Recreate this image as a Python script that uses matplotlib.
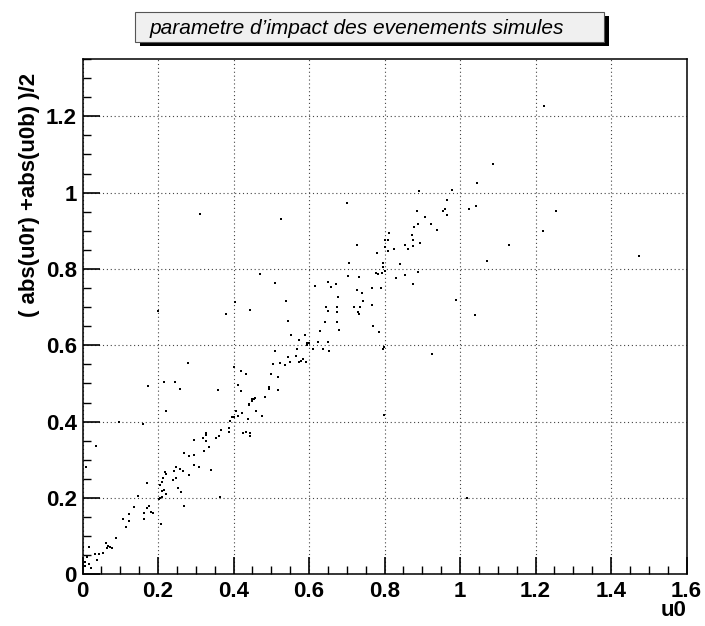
import numpy as np
import matplotlib
matplotlib.use('Agg')
import matplotlib.pyplot as plt
from matplotlib.ticker import MultipleLocator
from matplotlib.patches import Rectangle

# u0 and ( abs(u0r) + abs(u0b) )/2
u0 = [0.220, 0.096, 0.161, 0.037, 0.009, 0.171, 0.148, 0.136, 0.170, 0.175,
      0.164, 0.181, 0.188, 0.162, 0.123, 0.106, 0.124, 0.115, 0.088, 0.062,
      0.068, 0.074, 0.079, 0.066, 0.053, 0.045, 0.033, 0.017, 0.001, 0.013,
      0.038, 0.007, 0.017, 0.006, 0.022,
      0.205, 0.211, 0.214, 0.220, 0.218, 0.205, 0.211, 0.202, 0.211, 0.217,
      0.221, 0.208, 0.241, 0.249, 0.243, 0.248, 0.258, 0.265, 0.252, 0.261,
      0.270, 0.281, 0.270, 0.281, 0.295, 0.295, 0.308, 0.340, 0.295, 0.320,
      0.326, 0.328, 0.323, 0.328, 0.335, 0.354, 0.362, 0.367, 0.365, 0.387,
      0.388, 0.392, 0.396, 0.402, 0.407, 0.413, 0.423, 0.424, 0.433, 0.438,
      0.443, 0.441, 0.448, 0.443,
      0.200, 0.404, 0.380, 0.443, 0.540, 0.544, 0.553, 0.574, 0.590, 0.644,
      0.650, 0.642, 0.630, 0.625, 0.650, 0.638, 0.653, 0.611, 0.594, 0.594,
      0.510, 0.545, 0.565, 0.574, 0.579, 0.583, 0.591, 0.549, 0.536, 0.524,
      0.505, 0.500, 0.518, 0.494, 0.495, 0.517, 0.484, 0.280, 0.216, 0.245,
      0.258, 0.359, 0.402, 0.420, 0.434, 0.411, 0.419, 0.458, 0.454, 0.449,
      0.442, 0.460, 0.475, 0.567, 0.600, 0.173,
      0.469, 0.511, 0.617, 0.651, 0.659, 0.672, 0.677, 0.674, 0.675, 0.674,
      0.679, 0.705, 0.703, 0.727, 0.733, 0.728, 0.740, 0.743, 0.719, 0.736,
      0.730, 0.732, 0.766, 0.766, 0.770, 0.786, 0.779, 0.791, 0.777, 0.784,
      0.793, 0.795, 0.797, 0.800, 0.800, 0.800, 0.809, 0.812, 0.810, 0.824,
      0.830, 0.840, 0.854, 0.855, 0.862, 0.874, 0.875, 0.875, 0.877, 0.890,
      0.894, 0.888, 0.875, 0.796, 0.798,
      1.088, 1.046, 0.980, 0.892, 0.965, 0.960, 0.954, 0.965, 1.024, 1.043,
      1.253, 1.219, 0.886, 0.906, 0.890, 0.923, 0.939, 1.131, 1.072, 0.989,
      1.040, 1.223, 1.474, 0.926, 0.799, 1.018, 0.701, 0.527, 0.311]

u0_mean = [0.428, 0.399, 0.395, 0.335, 0.280, 0.240, 0.204, 0.177, 0.173, 0.179,
           0.161, 0.164, 0.160, 0.144, 0.157, 0.145, 0.140, 0.124, 0.094, 0.081,
           0.075, 0.072, 0.068, 0.070, 0.056, 0.052, 0.053, 0.071, 0.071, 0.046,
           0.037, 0.031, 0.027, 0.022, 0.017,
           0.233, 0.242, 0.251, 0.264, 0.268, 0.201, 0.203, 0.198, 0.219, 0.220,
           0.210, 0.131, 0.247, 0.251, 0.271, 0.281, 0.277, 0.271, 0.227, 0.216,
           0.179, 0.259, 0.319, 0.311, 0.312, 0.287, 0.282, 0.273, 0.353, 0.358,
           0.365, 0.370, 0.322, 0.349, 0.334, 0.356, 0.362, 0.379, 0.202, 0.372,
           0.382, 0.402, 0.413, 0.412, 0.428, 0.416, 0.423, 0.369, 0.372, 0.408,
           0.369, 0.445, 0.454, 0.363,
           0.689, 0.713, 0.682, 0.692, 0.715, 0.664, 0.627, 0.613, 0.627, 0.701,
           0.689, 0.660, 0.637, 0.608, 0.609, 0.591, 0.586, 0.589, 0.607, 0.600,
           0.585, 0.569, 0.571, 0.556, 0.560, 0.563, 0.556, 0.556, 0.549, 0.554,
           0.552, 0.524, 0.518, 0.491, 0.485, 0.484, 0.464, 0.553, 0.505, 0.505,
           0.486, 0.484, 0.543, 0.532, 0.526, 0.496, 0.479, 0.463, 0.459, 0.458,
           0.444, 0.428, 0.414, 0.591, 0.605, 0.494,
           0.788, 0.763, 0.756, 0.766, 0.752, 0.760, 0.727, 0.701, 0.688, 0.662,
           0.641, 0.816, 0.782, 0.863, 0.779, 0.744, 0.736, 0.715, 0.699, 0.701,
           0.688, 0.681, 0.749, 0.706, 0.651, 0.636, 0.841, 0.750, 0.789, 0.788,
           0.789, 0.804, 0.816, 0.794, 0.857, 0.876, 0.846, 0.893, 0.876, 0.852,
           0.776, 0.813, 0.862, 0.783, 0.851, 0.888, 0.876, 0.861, 0.910, 0.917,
           0.867, 0.791, 0.761, 0.591, 0.595,
           1.074, 1.026, 1.007, 1.004, 0.980, 0.958, 0.952, 0.941, 0.957, 0.965,
           0.951, 0.900, 0.951, 0.937, 0.918, 0.918, 0.902, 0.864, 0.821, 0.719,
           0.680, 1.228, 0.833, 0.576, 0.418, 0.199, 0.974, 0.931, 0.944]

title = 'parametre d\u2019impact des evenements simules'
xlabel = 'u0'
ylabel = '( abs(u0r) +abs(u0b) )/2'

W, H = 705, 626
fig = plt.figure(figsize=(W / 100, H / 100), dpi=100)
plt.rcParams['font.family'] = ['Liberation Sans', 'DejaVu Sans']

left, right, top, bottom = 82.5, 686.5, 59, 574.3
ax = fig.add_axes([left / W, 1 - bottom / H, (right - left) / W, (bottom - top) / H])

ax.plot(u0, u0_mean, linestyle='none', marker='s', markersize=2.0,
        color='black', markeredgewidth=0)

ax.set_xlim(0, 1.6)
ax.set_ylim(0, 1.35)

ax.xaxis.set_minor_locator(MultipleLocator(0.05))
ax.yaxis.set_minor_locator(MultipleLocator(0.05))

xticks = np.arange(0, 1.61, 0.2)
ax.set_xticks(xticks)
ax.set_xticklabels(['%g' % round(t, 1) for t in xticks])
yticks = np.arange(0, 1.21, 0.2)
ax.set_yticks(yticks)
ax.set_yticklabels(['%g' % round(t, 1) for t in yticks])

ax.tick_params(which='major', direction='in', length=12, width=1.2,
               labelsize=16, top=False, right=False)
ax.tick_params(which='minor', direction='in', length=6, width=1.0,
               top=False, right=False)
ax.tick_params(axis='x', which='major', pad=5)
ax.tick_params(axis='y', which='major', pad=4)
for lab in ax.get_xticklabels() + ax.get_yticklabels():
    lab.set_fontweight('bold')

ax.grid(True, which='major', color='#444444', linestyle=(0, (1, 2.5)), linewidth=0.8)
for s in ax.spines.values():
    s.set_linewidth(1.1)

fig.text(687 / W, 1 - 611 / H, xlabel, ha='right', va='center',
         fontsize=16, fontweight='bold')
fig.text(30 / W, 1 - 73 / H, ylabel, ha='center', va='top', rotation=90,
         fontsize=16, fontweight='bold')

# title box with shadow
bx0, by0, bx1, by1 = 135, 12, 604, 42
shadow = Rectangle(((bx0 + 5) / W, 1 - (by1 + 4) / H), (bx1 - bx0) / W, (by1 - by0) / H,
                   transform=fig.transFigure, facecolor='black', edgecolor='none', zorder=1)
box = Rectangle((bx0 / W, 1 - by1 / H), (bx1 - bx0) / W, (by1 - by0) / H,
                transform=fig.transFigure, facecolor='#f0f0f0', edgecolor='#555555',
                linewidth=0.8, zorder=2)
fig.patches.extend([shadow, box])
fig.text(357 / W, 1 - 28 / H, title, ha='center', va='center', fontsize=15,
         style='italic', zorder=3)

fig.savefig('out.png', dpi=100)
